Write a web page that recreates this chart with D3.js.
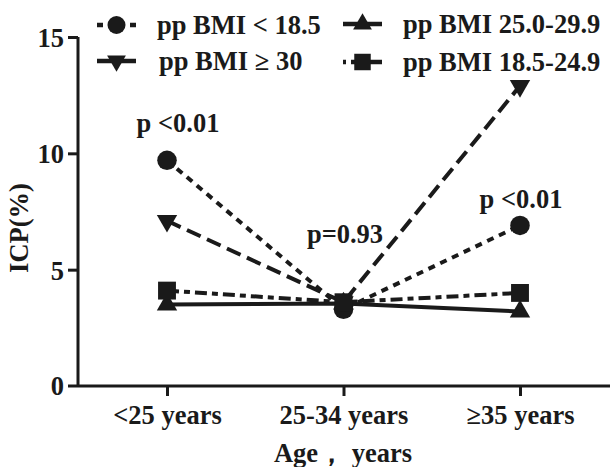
<!DOCTYPE html>
<html>
<head>
<meta charset="utf-8">
<script src="https://cdn.jsdelivr.net/npm/d3@7"></script>
<style>
  body { margin: 0; background: #fff; }
</style>
</head>
<body>
<svg id="chart" width="612" height="467"></svg>
<script>
// data
const ageGroups = ['<25 years', '25-34 years', '\u226535 years'];
const bmiUnder = [9.7, 3.3, 6.9];       // pp BMI < 18.5
const bmiObese = [7.1, 3.6, 12.9];      // pp BMI >= 30
const bmiOver = [3.5, 3.55, 3.2];       // pp BMI 25.0-29.9
const bmiNormal = [4.1, 3.6, 4.0];      // pp BMI 18.5-24.9
const yTicks = [0, 5, 10, 15];
const pLabels = ['p <0.01', 'p=0.93', 'p <0.01'];

const ink = '#1a1a1a';
const fs = 26.5;
const svg = d3.select('#chart');

const x = d3.scalePoint().domain(ageGroups).range([167, 520]);
const y = d3.scaleLinear().domain([0, 15]).range([386, 37]);

// axes
const yAxis = d3.axisLeft(y).tickValues(yTicks.slice(1)).tickSize(10).tickPadding(4);
const gy = svg.append('g').attr('transform', 'translate(78,0)').call(yAxis);
gy.select('.domain').attr('d', `M0,${y(15)}V${y(0)}`);

const xAxis = d3.axisBottom(x).tickSize(10).tickPadding(5);
const gx = svg.append('g').attr('transform', `translate(0,${y(0)})`).call(xAxis);
gx.select('.domain').attr('d', 'M68,0H610');

[gx, gy].forEach(g => {
  g.selectAll('path, line').attr('stroke', ink).attr('stroke-width', 3);
});
gx.selectAll('text').attr('dy', '0.85em');
gy.selectAll('text').attr('dy', '0.36em');

// "0" label sits left of the x axis extension
svg.append('text').attr('x', 64).attr('y', y(0) + 9).attr('text-anchor', 'end').text('0');

// axis titles
svg.append('text').attr('transform', `translate(28,228) rotate(-90)`)
  .attr('text-anchor', 'middle').text('ICP(%)');
svg.append('text').attr('x', 343).attr('y', 462).attr('text-anchor', 'middle')
  .text('Age\uff0c  years');

// series
const series = [
  { name: 'pp BMI < 18.5', values: bmiUnder, dash: '7,6', sym: d3.symbolCircle, size: 300 },
  { name: 'pp BMI \u2265 30', values: bmiObese, dash: '15,7', sym: 'down', size: 180 },
  { name: 'pp BMI 25.0-29.9', values: bmiOver, dash: null, sym: d3.symbolTriangle, size: 180 },
  { name: 'pp BMI 18.5-24.9', values: bmiNormal, dash: '12,5,6,5', sym: d3.symbolSquare, size: 320 }
];

const line = d3.line().x((d, i) => x(ageGroups[i])).y(d => y(d));

function symPath(s, k) {
  const type = s.sym === 'down' ? d3.symbolTriangle : s.sym;
  return d3.symbol(type, s.size * (k || 1))();
}
function symTransform(s, cx, cy) {
  return s.sym === 'down' ? `translate(${cx},${cy}) rotate(180)` : `translate(${cx},${cy})`;
}

series.forEach(s => {
  svg.append('path').datum(s.values).attr('d', line)
    .attr('fill', 'none').attr('stroke', ink).attr('stroke-width', 4)
    .attr('stroke-dasharray', s.dash);
});
series.forEach(s => {
  svg.append('g').selectAll('path').data(s.values).join('path')
    .attr('d', symPath(s))
    .attr('transform', (d, i) => symTransform(s, x(ageGroups[i]), y(d)))
    .attr('fill', ink);
});

// p labels
const pPos = [[178, 132], [345, 243], [521, 208]];
svg.append('g').selectAll('text').data(pLabels).join('text')
  .attr('x', (d, i) => pPos[i][0]).attr('y', (d, i) => pPos[i][1])
  .attr('text-anchor', 'middle').text(d => d);

// legend
const legendPos = [[97, 25], [97, 61], [343, 24], [343, 62]];
const legendText = [157, 159, 403, 403];
const legendDash = ['6,5', null, null, '3,5,40'];
const lg = svg.append('g').selectAll('g').data(series).join('g')
  .attr('transform', (d, i) => `translate(${legendPos[i][0]},${legendPos[i][1]})`);
lg.append('line').attr('x1', 0).attr('x2', 39).attr('stroke', ink).attr('stroke-width', 4.5)
  .attr('stroke-dasharray', (d, i) => legendDash[i]);
lg.append('path').attr('d', d => symPath(d, 0.85))
  .attr('transform', d => symTransform(d, 19.5, 0)).attr('fill', ink);
lg.append('text').attr('x', (d, i) => legendText[i] - legendPos[i][0]).attr('y', 9)
  .text(d => d.name);

// one text style for everything
svg.selectAll('text')
  .style('font-family', "'Liberation Serif', serif")
  .style('font-weight', 'bold')
  .style('font-size', fs + 'px')
  .attr('fill', ink);
</script>
</body>
</html>
